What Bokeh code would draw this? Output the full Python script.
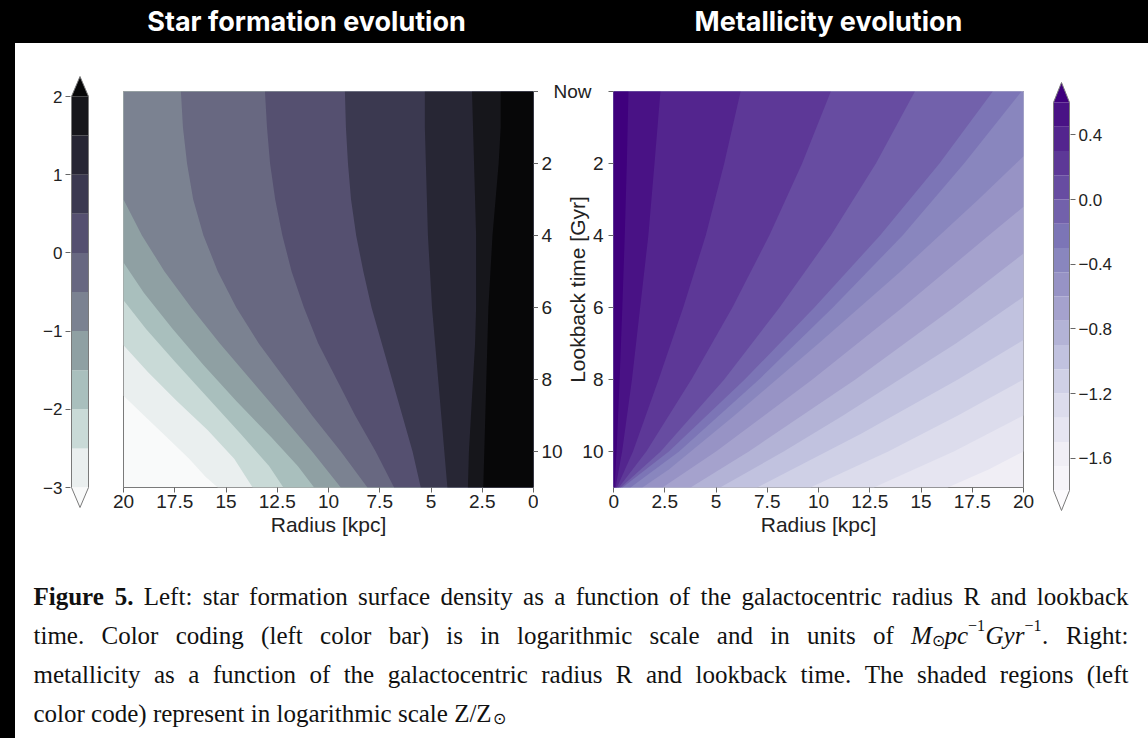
import math
from bokeh.plotting import figure
from bokeh.models import Range1d, FixedTicker, CustomJSTickFormatter, Spacer
from bokeh.layouts import row, column
from bokeh.embed import file_html
from bokeh.resources import INLINE
from bokeh.core.properties import value

# ------------------------------------------------------------------ data
TITLES = ["Star formation evolution", "Metallicity evolution"]

R_TICKS = [0, 2.5, 5, 7.5, 10, 12.5, 15, 17.5, 20]
T_TICKS = [0, 2, 4, 6, 8, 10]
T_LABELS = ["Now", "2", "4", "6", "8", "10"]
R_MAX, T_MAX = 20.0, 11.0

# star formation surface density, log10 scale
SF_LEVELS = [-3.0, -2.5, -2.0, -1.5, -1.0, -0.5, 0.0, 0.5, 1.0, 1.5, 2.0]
SF_TICKS = [-3, -2, -1, 0, 1, 2]
SF_COLORS = ["#f9fafa", "#eaefef", "#c9dad7", "#a9bfbd", "#8fa0a3", "#7b8291",
             "#686881", "#555070", "#3b3950", "#272634", "#16161b", "#070708"]

# contour lines of the star formation map: radius [kpc] / lookback time [Gyr]
SF_M30_R = [20.0, 19.0, 17.9, 16.8, 16.0, 15.4]
SF_M30_T = [8.45, 9.0, 9.6, 10.2, 10.7, 11.0]
SF_M25_R = [20.0, 18.8, 17.4, 15.9, 14.6, 13.7]
SF_M25_T = [7.05, 7.8, 8.6, 9.4, 10.2, 11.0]
SF_M20_R = [20.0, 18.9, 17.5, 15.9, 14.3, 12.9, 12.2]
SF_M20_T = [5.8, 6.6, 7.5, 8.5, 9.5, 10.4, 11.0]
SF_M15_R = [20.0, 19.0, 17.6, 16.1, 14.5, 12.8, 11.5, 10.7]
SF_M15_T = [4.75, 5.6, 6.6, 7.6, 8.6, 9.6, 10.4, 11.0]
SF_M10_R = [20.0, 19.1, 18.0, 16.7, 15.3, 13.8, 12.3, 10.8, 9.4]
SF_M10_T = [3.0, 4.0, 5.0, 6.0, 7.0, 8.0, 9.0, 10.0, 11.0]
SF_M05_R = [17.2, 17.1, 16.9, 16.6, 16.1, 15.4, 14.5, 13.4, 12.1, 10.8, 9.4, 8.1]
SF_M05_T = [0, 1, 2, 3, 4, 5, 6, 7, 8, 9, 10, 11]
SF_P00_R = [13.1, 13.0, 12.85, 12.6, 12.25, 11.8, 11.2, 10.5, 9.6, 8.7, 7.7, 6.8]
SF_P00_T = [0, 1, 2, 3, 4, 5, 6, 7, 8, 9, 10, 11]
SF_P05_R = [9.2, 9.15, 9.05, 8.9, 8.65, 8.3, 7.9, 7.4, 6.9, 6.4, 5.9, 5.5]
SF_P05_T = [0, 1, 2, 3, 4, 5, 6, 7, 8, 9, 10, 11]
SF_P10_R = [5.3, 5.3, 5.25, 5.2, 5.15, 5.05, 4.95, 4.8, 4.65, 4.5, 4.35, 4.2]
SF_P10_T = [0, 1, 2, 3, 4, 5, 6, 7, 8, 9, 10, 11]
SF_P15_R = [3.0, 2.95, 2.9, 2.85, 2.8, 2.8, 2.8, 2.85, 2.95, 3.05, 3.15, 3.2]
SF_P15_T = [0, 1, 2, 3, 4, 5, 6, 7, 8, 9, 10, 11]
SF_P20_R = [1.6, 1.6, 1.7, 1.85, 2.0, 2.1, 2.2, 2.25, 2.3, 2.35, 2.4, 2.45]
SF_P20_T = [0, 1, 2, 3, 4, 5, 6, 7, 8, 9, 10, 11]

# metallicity, log10(Z/Zsun)
Z_LEVELS = [-1.8, -1.65, -1.5, -1.35, -1.2, -1.05, -0.9, -0.75, -0.6,
            -0.45, -0.3, -0.15, 0.0, 0.15, 0.3, 0.45, 0.6]
Z_TICKS = [-1.6, -1.2, -0.8, -0.4, 0.0, 0.4]
PURPLES = ["#fcfbfd", "#efedf5", "#dadaeb", "#bcbddc", "#9e9ac8",
           "#807dba", "#6a51a3", "#54278f", "#3f007d"]

# contour lines of the metallicity map: radius [kpc] / lookback time [Gyr]
Z_M150_R = [20.0, 18.3, 16.3]
Z_M150_T = [10.0, 10.5, 11.0]
Z_M135_R = [20.0, 16.6, 12.7]
Z_M135_T = [9.0, 10.0, 11.0]
Z_M120_R = [20.0, 16.8, 13.4, 9.6]
Z_M120_T = [8.0, 9.0, 10.0, 11.0]
Z_M105_R = [20.0, 16.8, 12.1, 7.0]
Z_M105_T = [6.9, 8.0, 9.5, 11.0]
Z_M090_R = [20.0, 16.7, 11.2, 8.3, 5.2]
Z_M090_T = [5.7, 7.0, 9.0, 10.0, 11.0]
Z_M075_R = [20.0, 16.6, 11.8, 6.6, 3.76]
Z_M075_T = [4.5, 6.0, 8.0, 10.0, 11.0]
Z_M060_R = [20.0, 18.3, 14.1, 9.7, 5.0, 2.39]
Z_M060_T = [3.2, 4.0, 6.0, 8.0, 10.0, 11.0]
Z_M045_R = [20.0, 17.8, 14.0, 10.0, 5.9, 2.7, 1.41]
Z_M045_T = [1.8, 3.0, 5.0, 7.0, 9.0, 10.5, 11.0]
Z_M030_R = [19.9, 17.1, 14.1, 10.7, 7.1, 3.2, 0.83]
Z_M030_T = [0, 2, 4, 6, 8, 10, 11]
Z_M015_R = [18.5, 15.9, 13.0, 9.8, 6.4, 2.7, 0.44]
Z_M015_T = [0, 2, 4, 6, 8, 10, 11]
Z_P000_R = [14.7, 12.8, 10.6, 8.1, 5.4, 2.3, 0.35]
Z_P000_T = [0, 2, 4, 6, 8, 10, 11]
Z_P015_R = [10.6, 9.2, 7.6, 5.8, 3.8, 1.6, 0.26]
Z_P015_T = [0, 2, 4, 6, 8, 10, 11]
Z_P030_R = [6.2, 5.4, 4.5, 3.4, 2.2, 0.95, 0.17]
Z_P030_T = [0, 2, 4, 6, 8, 10, 11]
Z_P045_R = [2.29, 2.0, 1.7, 1.3, 0.9, 0.42, 0.1]
Z_P045_T = [0, 2, 4, 6, 8, 10, 11]
Z_P060_R = [0.73, 0.65, 0.55, 0.43, 0.3, 0.15, 0.05]
Z_P060_T = [0, 2, 4, 6, 8, 10, 11]

CAPTION_1B = "Figure 5."
CAPTION_1 = "Left: star formation surface density as a function of the galactocentric radius R and lookback"
CAPTION_2 = "time. Color coding (left color bar) is in logarithmic scale and in units of"
CAPTION_2E = "Right:"
CAPTION_3 = "metallicity as a function of the galactocentric radius R and lookback time. The shaded regions (left"
CAPTION_4 = "color code) represent in logarithmic scale Z/Z"

# ------------------------------------------------------------------ layout (px)
PAGE_W, PAGE_H = 1148, 738
HEAD_H = 43
STRIP_W = 15
ROW_H = 510
CAP_H = PAGE_H - HEAD_H - ROW_H

FRAME_Y = (91, 487)
PL_SPAN, PL_FRAME = (100, 538), (123, 533)
MID_SPAN = (538, 608)
PR_SPAN, PR_FRAME = (608, 1040), (613, 1023)
CBL_SPAN, CBL_BAR, CBL_VPX = (15, 100), (71, 88), (96, 487)
CBR_SPAN, CBR_BAR, CBR_VPX = (1040, 1148), (1053, 1069), (102, 490)
ARROW_PX = 20

EDGE = "#7a7a7a"
TICK = "#666666"
INK = "#222222"
SANS = "Liberation Sans"
TICK_SIZE = "19px"
LABEL_SIZE = "21px"


def fig(**kw):
    return figure(output_backend="svg", toolbar_location=None, frame_align=False, **kw)


def panel(span, fx, fy, xr, yr, **kw):
    p = fig(width=span[1] - span[0], height=ROW_H, x_range=xr, y_range=yr,
            min_border_left=fx[0] - span[0], min_border_right=span[1] - fx[1],
            min_border_top=fy[0] - HEAD_H, min_border_bottom=HEAD_H + ROW_H - fy[1], **kw)
    p.grid.visible = False
    p.background_fill_color = "white"
    p.border_fill_color = "white"
    return p


def style_axis(ax, ticks, code, size):
    ax.ticker = FixedTicker(ticks=ticks, minor_ticks=[])
    ax.formatter = CustomJSTickFormatter(code=code)
    ax.major_tick_out = 5
    ax.major_tick_in = 0
    ax.major_tick_line_color = TICK
    ax.minor_tick_line_color = None
    ax.axis_line_color = None
    ax.major_label_text_font = SANS
    ax.major_label_text_font_size = size
    ax.major_label_text_color = INK
    ax.axis_label_text_font = SANS
    ax.axis_label_text_font_size = LABEL_SIZE
    ax.axis_label_text_font_style = "normal"
    ax.axis_label_text_color = INK


def ramp(anchors, n):
    rgb = [tuple(int(a[i:i + 2], 16) for i in (1, 3, 5)) for a in anchors]
    out = []
    for k in range(n):
        f = k / (n - 1) * (len(rgb) - 1)
        i = min(int(f), len(rgb) - 2)
        u = f - i
        c = [round(rgb[i][j] + (rgb[i + 1][j] - rgb[i][j]) * u) for j in range(3)]
        out.append("#%02x%02x%02x" % tuple(c))
    return out


def colorbar(span, bar, vpx, levels, colors, ticks, side, code):
    lo, hi = levels[0], levels[-1]
    ppu = (vpx[1] - vpx[0]) / (hi - lo)
    ext = ARROW_PX / ppu
    pad = 2 / ppu
    bw = bar[1] - bar[0]
    xr = Range1d(-1.0 / bw, 1 + 1.0 / bw)
    yr = Range1d(lo - ext - pad, hi + ext + pad)
    fy = (vpx[0] - ARROW_PX - 2, vpx[1] + ARROW_PX + 2)
    fx = (bar[0] - 1, bar[1] + 1)
    p = panel(span, fx, fy, xr, yr, x_axis_location=None, y_axis_location=side)
    p.outline_line_color = None
    p.quad(left=0, right=1, bottom=levels[:-1], top=levels[1:],
           fill_color=colors[1:-1], line_color=None)
    p.patches(xs=[[0, 1, 0.5], [0, 1, 0.5]],
              ys=[[hi, hi, hi + ext], [lo, lo, lo - ext]],
              fill_color=[colors[-1], colors[0]], line_color=None)
    p.line(x=[0, 0, 0.5, 1, 1, 0.5, 0], y=[lo, hi, hi + ext, hi, lo, lo - ext, lo],
           line_color=EDGE, line_width=1)
    ax = p.yaxis[0]
    style_axis(ax, ticks, code, "17px")
    ax.major_label_standoff = 3
    return p


def filled_contours(p, lines, colors):
    # each region "value >= level" is painted over the previous one
    xs, ys, fills = [], [], []
    for idx, rs, ts in lines:
        px, py = list(rs), list(ts)
        if px[0] >= R_MAX and py[0] > 0:
            px, py = [R_MAX] + px, [0.0] + py
        px += [0.0, 0.0]
        py += [T_MAX, 0.0]
        xs.append(px)
        ys.append(py)
        fills.append(colors[idx + 1])
    p.background_fill_color = colors[lines[0][0]]
    p.patches(xs=xs, ys=ys, fill_color=fills, line_color=None)


def map_panel(span, frame, x_range, lines, colors, side):
    p = panel(span, frame, FRAME_Y, x_range, Range1d(T_MAX, 0), y_axis_location=side)
    p.outline_line_color = EDGE
    filled_contours(p, lines, colors)
    style_axis(p.xaxis[0], R_TICKS, "return String(tick);", TICK_SIZE)
    p.xaxis[0].axis_label = "Radius [kpc]"
    p.xaxis[0].major_label_standoff = 2
    p.xaxis[0].axis_label_standoff = 2
    # time ticks only; their labels sit in the shared middle strip
    style_axis(p.yaxis[0], T_TICKS, "return '';", TICK_SIZE)
    p.yaxis[0].major_label_standoff = 0
    return p


# ------------------------------------------------------------------ header
head = fig(width=PAGE_W, height=HEAD_H, x_range=Range1d(0, PAGE_W),
           y_range=Range1d(HEAD_H, 0), min_border=0, x_axis_location=None,
           y_axis_location=None)
head.grid.visible = False
head.outline_line_color = None
head.background_fill_color = "black"
head.border_fill_color = "black"
head.text(x=[306, 828], y=[21, 21], text=TITLES, text_color="white",
          text_font=value("Inter"), text_font_style="bold",
          text_font_size=value("27px"), text_align="center", text_baseline="middle")

# ------------------------------------------------------------------ colorbars
cb_left = colorbar(CBL_SPAN, CBL_BAR, CBL_VPX, SF_LEVELS, SF_COLORS, SF_TICKS, "left",
                   "return String(tick).replace('-', '\u2212');")
Z_COLORS = ramp(PURPLES, len(Z_LEVELS) + 1)
cb_right = colorbar(CBR_SPAN, CBR_BAR, CBR_VPX, Z_LEVELS, Z_COLORS, Z_TICKS, "right",
                    "return tick.toFixed(1).replace('-', '\u2212');")

# ------------------------------------------------------------------ maps
sf_lines = [
    (0, SF_M30_R, SF_M30_T), (1, SF_M25_R, SF_M25_T), (2, SF_M20_R, SF_M20_T),
    (3, SF_M15_R, SF_M15_T), (4, SF_M10_R, SF_M10_T), (5, SF_M05_R, SF_M05_T),
    (6, SF_P00_R, SF_P00_T), (7, SF_P05_R, SF_P05_T), (8, SF_P10_R, SF_P10_T),
    (9, SF_P15_R, SF_P15_T), (10, SF_P20_R, SF_P20_T),
]
p_sf = map_panel(PL_SPAN, PL_FRAME, Range1d(R_MAX, 0), sf_lines, SF_COLORS, "right")

z_lines = [
    (2, Z_M150_R, Z_M150_T), (3, Z_M135_R, Z_M135_T), (4, Z_M120_R, Z_M120_T),
    (5, Z_M105_R, Z_M105_T), (6, Z_M090_R, Z_M090_T), (7, Z_M075_R, Z_M075_T),
    (8, Z_M060_R, Z_M060_T), (9, Z_M045_R, Z_M045_T), (10, Z_M030_R, Z_M030_T),
    (11, Z_M015_R, Z_M015_T), (12, Z_P000_R, Z_P000_T), (13, Z_P015_R, Z_P015_T),
    (14, Z_P030_R, Z_P030_T), (15, Z_P045_R, Z_P045_T), (16, Z_P060_R, Z_P060_T),
]
p_z = map_panel(PR_SPAN, PR_FRAME, Range1d(0, R_MAX), z_lines, Z_COLORS, "left")

# ------------------------------------------------------------------ shared time axis strip
px_per_gyr = (FRAME_Y[1] - FRAME_Y[0]) / T_MAX
t_top = (HEAD_H - FRAME_Y[0]) / px_per_gyr
t_bot = (HEAD_H + ROW_H - FRAME_Y[0]) / px_per_gyr
mid = fig(width=MID_SPAN[1] - MID_SPAN[0], height=ROW_H,
          x_range=Range1d(MID_SPAN[0], MID_SPAN[1]), y_range=Range1d(t_bot, t_top),
          min_border=0, x_axis_location=None, y_axis_location=None)
mid.grid.visible = False
mid.outline_line_color = None
mid.background_fill_color = "white"
mid.border_fill_color = "white"
lab = dict(text_font=value(SANS), text_font_size=value(TICK_SIZE), text_color=INK,
           text_baseline="middle")
# labels of the star formation map (right side of its frame)
mid.text(x=[PL_FRAME[1] + 8] * (len(T_TICKS) - 1), y=T_TICKS[1:], text=T_LABELS[1:],
         text_align="left", **lab)
mid.text(x=[PL_FRAME[1] + 20], y=[T_TICKS[0]], text=[T_LABELS[0]], text_align="left", **lab)
# labels of the metallicity map (left side of its frame)
mid.text(x=[PR_FRAME[0] - 10] * (len(T_TICKS) - 1), y=T_TICKS[1:], text=T_LABELS[1:],
         text_align="right", **lab)
mid.text(x=[577], y=[T_MAX / 2], text=["Lookback time [Gyr]"], angle=math.pi / 2,
         text_align="center", text_baseline="middle", text_font=value(SANS),
         text_font_size=value(LABEL_SIZE), text_color=INK)

# ------------------------------------------------------------------ caption
TW = {' ': 250, 'a': 444, 'b': 500, 'c': 444, 'd': 500, 'e': 444, 'f': 333, 'g': 500,
      'h': 500, 'i': 278, 'j': 278, 'k': 500, 'l': 278, 'm': 778, 'n': 500, 'o': 500,
      'p': 500, 'q': 500, 'r': 333, 's': 389, 't': 278, 'u': 500, 'v': 500, 'w': 722,
      'x': 500, 'y': 500, 'z': 444, '.': 250, ',': 250, ':': 278, '(': 333, ')': 333,
      '/': 278, 'R': 667, 'C': 667, 'T': 611, 'Z': 611, 'L': 611, 'F': 556, 'M': 889,
      'G': 722, '5': 500, '1': 500, '\u2212': 564}
TW_BOLD = {'F': 611, 'i': 278, 'g': 500, 'u': 556, 'r': 444, 'e': 444, '5': 500, '.': 250}
TW_ITAL = {'M': 833, 'p': 500, 'c': 444, 'G': 722, 'y': 444, 'r': 389}


def tw(s, size, table=TW):
    return sum(table.get(ch, TW.get(ch, 500)) for ch in s) * size / 1000.0


CAP_FONT = "Liberation Serif"
CAP_SIZE = 25
SMALL = 16
CAP_X0, CAP_X1 = 33, 1128
BASE = [596, 635, 674, 713]
CAP_INK = "#111111"

cap = fig(width=PAGE_W - STRIP_W, height=CAP_H, x_range=Range1d(STRIP_W, PAGE_W),
          y_range=Range1d(PAGE_H, PAGE_H - CAP_H), min_border=0,
          x_axis_location=None, y_axis_location=None)
cap.grid.visible = False
cap.outline_line_color = None
cap.background_fill_color = "white"
cap.border_fill_color = "white"


def put(xs, y, words, style="normal", size=CAP_SIZE):
    cap.text(x=list(xs), y=[y] * len(words), text=list(words), text_font=value(CAP_FONT),
             text_font_style=style, text_font_size=value("%dpx" % size),
             text_color=CAP_INK, text_align="left", text_baseline="alphabetic")


def justify(widths):
    gap = (CAP_X1 - CAP_X0 - sum(widths)) / (len(widths) - 1)
    xs, x = [], CAP_X0
    for w in widths:
        xs.append(x)
        x += w + gap
    return xs


# line 1
bold_words = CAPTION_1B.split()
words = CAPTION_1.split()
widths = [tw(w, CAP_SIZE, TW_BOLD) for w in bold_words] + [tw(w, CAP_SIZE) for w in words]
xs = justify(widths)
put(xs[:len(bold_words)], BASE[0], bold_words, style="bold")
put(xs[len(bold_words):], BASE[0], words)

# line 2, with the unit M_sun pc^-1 Gyr^-1
unit = [("M", "italic", CAP_SIZE, 0, TW_ITAL), ("\u2299", "normal", SMALL, 5, TW),
        ("pc", "italic", CAP_SIZE, 0, TW_ITAL), ("\u22121", "normal", SMALL, -10, TW),
        ("Gyr", "italic", CAP_SIZE, 0, TW_ITAL), ("\u22121", "normal", SMALL, -10, TW),
        (".", "normal", CAP_SIZE, 0, TW)]
unit_w = [tw(s, sz, tb) if s != "\u2299" else 12.0 for s, _, sz, _, tb in unit]
words = CAPTION_2.split()
widths = [tw(w, CAP_SIZE) for w in words] + [sum(unit_w) + 2, tw(CAPTION_2E, CAP_SIZE)]
xs = justify(widths)
put(xs[:len(words)], BASE[1], words)
ux = xs[len(words)]
for (s, style, sz, dy, _), w in zip(unit, unit_w):
    put([ux], BASE[1] + dy, [s], style=style, size=sz)
    ux += w + (0.5 if sz == SMALL else 0)
put([xs[-1]], BASE[1], [CAPTION_2E])

# line 3
words = CAPTION_3.split()
put(justify([tw(w, CAP_SIZE) for w in words]), BASE[2], words)

# line 4 (last line, natural spacing)
put([CAP_X0], BASE[3], [CAPTION_4])
put([CAP_X0 + tw(CAPTION_4, CAP_SIZE) + 1], BASE[3] + 5, ["\u2299"], size=SMALL)

# ------------------------------------------------------------------ page
white = {"background-color": "white"}
strip = Spacer(width=STRIP_W, height=PAGE_H - HEAD_H, styles={"background-color": "black"})
charts = row(cb_left, p_sf, mid, p_z, cb_right, styles=white)
body = column(charts, cap, styles=white)
root = column(head, row(strip, body, styles={"background-color": "black"}),
              styles={"background-color": "black"})

open("out.html", "w").write(file_html(root, INLINE))
